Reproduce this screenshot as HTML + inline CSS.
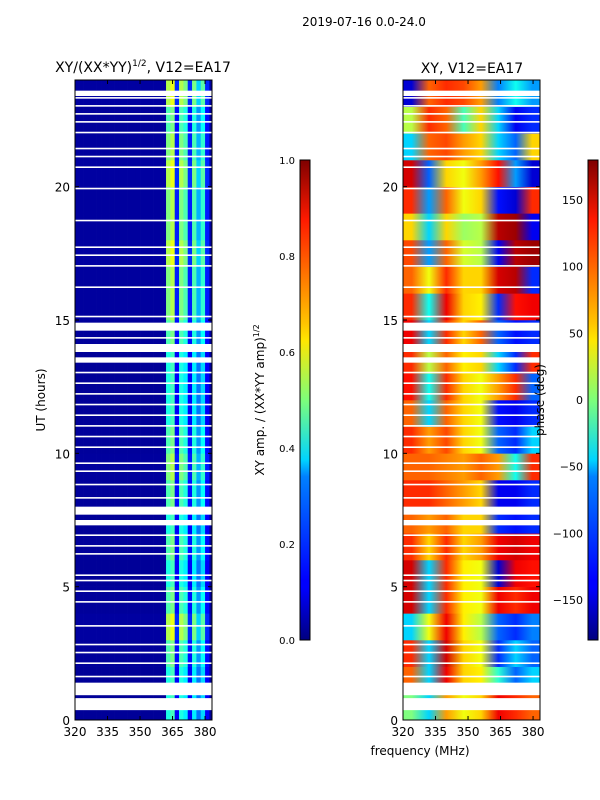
<!DOCTYPE html>
<html><head><meta charset="utf-8"><style>
html,body{margin:0;padding:0;background:#fff;}
svg{display:block;font-family:"DejaVu Sans","Liberation Sans",sans-serif;}
</style></head><body>
<svg id="fig" width="600" height="800" viewBox="0 0 600 800" xmlns="http://www.w3.org/2000/svg">
<defs id="defs">
<linearGradient id="jet" x1="0" y1="1" x2="0" y2="0">
<stop offset="0" stop-color="#00007f"/><stop offset="0.11" stop-color="#0000ff"/><stop offset="0.125" stop-color="#0000ff"/>
<stop offset="0.34" stop-color="#0080ff"/><stop offset="0.375" stop-color="#00d4ff"/><stop offset="0.5" stop-color="#7dff7a"/>
<stop offset="0.625" stop-color="#ffe600"/><stop offset="0.66" stop-color="#ffc400"/><stop offset="0.875" stop-color="#ff1a00"/>
<stop offset="1" stop-color="#7f0000"/></linearGradient>
</defs>
<text x="364" y="26" font-size="12" text-anchor="middle">2019-07-16 0.0-24.0</text>
<text x="143" y="72" font-size="14" text-anchor="middle">XY/(XX*YY)<tspan font-size="9" dy="-6">1/2</tspan><tspan dy="6">, V12=EA17</tspan></text>
<text x="472" y="73" font-size="14" text-anchor="middle">XY, V12=EA17</text>
<g id="left"></g>
<g id="right"></g>
<g id="axes"></g>
<text x="45" y="400" font-size="12" text-anchor="middle" transform="rotate(-90 45 400)">UT (hours)</text>
<text x="420" y="755" font-size="12" text-anchor="middle">frequency (MHz)</text>
<rect x="300" y="160" width="10" height="480" fill="url(#jet)" stroke="#000" stroke-width="1"/>
<text x="264" y="400" font-size="12" text-anchor="middle" transform="rotate(-90 264 400)">XY amp. / (XX*YY amp)<tspan font-size="8" dy="-5">1/2</tspan></text>
<rect x="588" y="160" width="10" height="480" fill="url(#jet)" stroke="#000" stroke-width="1"/>
<text x="544" y="400" font-size="12" text-anchor="middle" transform="rotate(-90 544 400)">phase (deg)</text>
</svg>
<script>
// amplitude per 2 MHz channel (320..384)
const ampChan=[0.03,0.03,0.03,0.03,0.03,0.03,0.03,0.03,0.03,0.03,0.03,0.03,0.03,0.03,0.03,0.03,0.03,0.03,0.03,0.03,0.03,0.5,0.55,0.15,0.5,0.45,0.15,0.45,0.3,0.42,0.15,0.03];
// hourly scaling of amplitude (0..23)
const ampHour=[0.8,0.8,0.9,1.1,0.9,0.8,0.9,0.8,0.9,1.0,0.9,0.8,0.8,0.8,0.9,1.0,1.0,1.1,1.0,1.0,1.1,1.0,0.9,1.1];
// phase (deg) per hour (rows) x 8 frequency columns
const phaseFreqEdges=[320,328,336,344,352,360,368,376,383.2];
const phaseHour=[
[0,-60,80,40,60,140,120,100],[100,-60,140,60,50,-30,-100,-60],[120,-60,150,60,40,-120,-60,-100],
[-60,40,140,50,20,-100,-120,-90],[150,-60,120,50,40,140,120,140],[150,-60,120,50,40,-150,140,130],
[120,60,120,60,80,140,150,140],[100,80,100,60,60,-120,-130,-120],[120,120,100,80,60,-140,-140,-120],
[100,100,90,80,100,80,-40,120],[120,80,110,60,40,-100,-120,-60],[100,-60,100,60,40,-130,-140,-120],
[130,-40,120,60,40,80,120,-100],[120,20,100,50,60,-60,-120,120],[140,-60,120,60,100,-100,-130,-120],
[120,-40,140,60,50,-120,130,140],[100,40,120,60,60,150,160,-120],[110,-80,100,30,20,-140,160,170],
[60,-60,60,10,20,160,170,-140],[120,-80,100,40,60,-130,-150,120],[150,-100,60,40,80,130,-80,-150],
[-60,100,110,80,60,-60,-100,60],[20,120,100,-20,60,-60,-140,-120],[-150,100,120,110,80,-90,-40,-80]];
// flagged (white) time ranges [start hour, duration]
const gaps=[[0.37,0.45],[0.93,0.47],[1.6,0.06],[2.1,0.06],[2.5,0.06],[2.8,0.06],[3.5,0.06],[4.4,0.06],[4.8,0.06],[5.2,0.06],[5.4,0.06],[6.2,0.06],[6.5,0.06],[6.9,0.06],[7.3,0.2],[7.7,0.3],[8.3,0.06],[8.8,0.06],[9.3,0.06],[9.6,0.06],[10.2,0.06],[10.6,0.06],[11.0,0.06],[11.4,0.06],[11.8,0.06],[12.2,0.06],[12.6,0.06],[13.0,0.06],[13.4,0.2],[13.8,0.3],[14.3,0.06],[14.6,0.3],[15.1,0.06],[16.2,0.06],[17.0,0.06],[17.4,0.06],[17.7,0.06],[18.7,0.06],[19.9,0.06],[20.7,0.06],[21.1,0.06],[21.4,0.06],[22.0,0.06],[22.4,0.06],[22.7,0.06],[23.0,0.06],[23.3,0.06],[23.4,0.2]];
const yTicks=[0,5,10,15,20];
const xTicks=[320,335,350,365,380];
const ampTicks=[0.0,0.2,0.4,0.6,0.8,1.0];
const phaseTicks=[-150,-100,-50,0,50,100,150];

const NS="http://www.w3.org/2000/svg";
const Y0=720,Y1=80,F0=320,F1=383.2,W=137;
const yS=h=>Y0-(h/24)*(Y0-Y1);
const xS=(x0,f)=>x0+(f-F0)/(F1-F0)*W;
function jet(v){v=Math.max(0,Math.min(1,v));
 const r=Math.max(0,Math.min(1,1.5-Math.abs(4*v-3))),g=Math.max(0,Math.min(1,1.5-Math.abs(4*v-2))),b=Math.max(0,Math.min(1,1.5-Math.abs(4*v-1)));
 return `rgb(${Math.round(r*255)},${Math.round(g*255)},${Math.round(b*255)})`;}
function mk(tag,attrs,parent){const e=document.createElementNS(NS,tag);for(const k in attrs)e.setAttribute(k,attrs[k]);parent.appendChild(e);return e;}
const L=document.getElementById('left'),R=document.getElementById('right'),A=document.getElementById('axes'),D=document.getElementById('defs');
for(let h=0;h<ampHour.length;h++){
 for(let c=0;c<ampChan.length;c++){
  const f0=F0+2*c,f1=Math.min(F1,f0+2);if(f0>=F1)continue;
  const r=mk('rect',{x:xS(75,f0),y:yS(h+1),width:xS(75,f1)-xS(75,f0)+0.3,height:yS(h)-yS(h+1)+0.3,fill:jet(ampChan[c]*ampHour[h])},L);
  
  
 }
 // phase row: gradient through column centres
 const gid='pg'+h;
 const lg=mk('linearGradient',{id:gid,x1:0,y1:0,x2:1,y2:0},D);
 for(let c=0;c<8;c++){
  const fc=(phaseFreqEdges[c]+phaseFreqEdges[c+1])/2;
  mk('stop',{offset:(fc-F0)/(F1-F0),'stop-color':jet((phaseHour[h][c]+180)/360)},lg);
 }
 const r=mk('rect',{x:403,y:yS(h+1),width:W,height:yS(h)-yS(h+1)+0.3,fill:`url(#${gid})`},R);
 
 
}
for(const g of gaps){for(const x0 of [75,403]){
 const r=mk('rect',{x:x0,y:yS(g[0]+g[1]),width:W,height:Math.max(1.5,yS(g[0])-yS(g[0]+g[1])),fill:'#fff'},x0==75?L:R);
 
 
}}
for(const x0 of [75,403]){
 const f=mk('rect',{x:x0,y:Y1,width:W,height:Y0-Y1,fill:'none',stroke:'#000','stroke-width':1},A);
 
 
 for(const t of yTicks){const y=yS(t);
  mk('line',{x1:x0,x2:x0+4,y1:y,y2:y,stroke:'#000'},A);
  mk('line',{x1:x0+W,x2:x0+W-4,y1:y,y2:y,stroke:'#000'},A);
  const tx=mk('text',{x:x0-5,y:y+5,'font-size':12,'text-anchor':'end'},A);tx.textContent=t;
  
  }
 for(const t of xTicks){const x=xS(x0,t);
  mk('line',{x1:x,x2:x,y1:Y0,y2:Y0-4,stroke:'#000'},A);
  mk('line',{x1:x,x2:x,y1:Y1,y2:Y1+4,stroke:'#000'},A);
  const tx=mk('text',{x:x,y:Y0+16,'font-size':12,'text-anchor':'middle'},A);tx.textContent=t;
  
  }
}
for(const t of ampTicks){const y=640-t*480;
 mk('line',{x1:300,x2:310,y1:y,y2:y,stroke:'#000'},A);
 const tx=mk('text',{x:295,y:y+4,'font-size':10,'text-anchor':'end'},A);tx.textContent=t.toFixed(1);
 
 }
for(const t of phaseTicks){const y=640-(t+180)/360*480;
 mk('line',{x1:588,x2:598,y1:y,y2:y,stroke:'#000'},A);
 const tx=mk('text',{x:583,y:y+4,'font-size':11,'text-anchor':'end'},A);tx.textContent=(t<0?'\u2212'+(-t):t);
 
 }
</script>
</body></html>
